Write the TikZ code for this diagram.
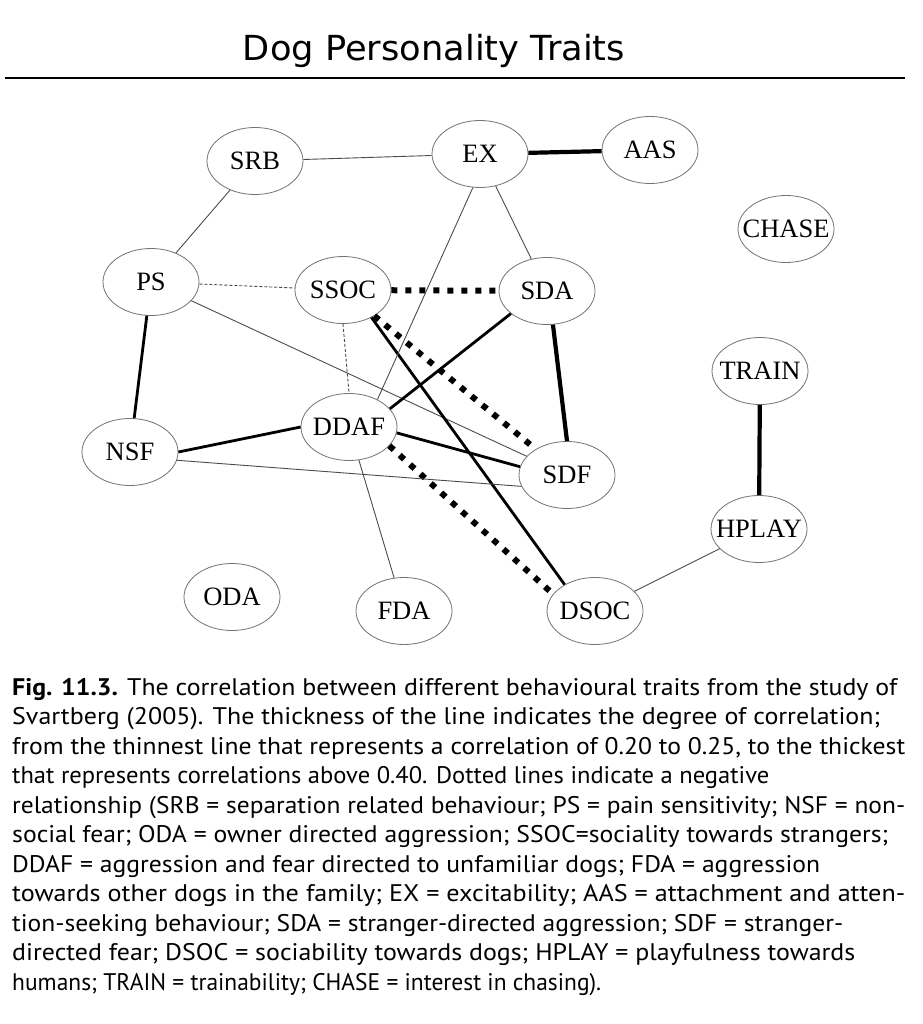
\documentclass[tikz,border=0pt]{standalone}
\usepackage{fontspec}
\usepackage{graphicx}
\setmainfont{Liberation Serif}
\newfontfamily\titlefont{DejaVu Sans}
\newfontfamily\capfont{PT Sans}
\usetikzlibrary{shapes.geometric}
\newcommand\tl[1]{\makebox[0pt]{#1}}
\newcommand\capfit[2]{\resizebox{#1pt}{\height}{#2}}
\tikzset{
  trait/.style={ellipse, draw=black!55, line width=0.8pt, fill=white,
    minimum width=96pt, minimum height=67pt, inner sep=0pt,
    font=\fontsize{26.5}{30}\selectfont},
  weak/.style={line width=0.9pt, draw=black!70},
  weakneg/.style={line width=0.9pt, draw=black!70, dash pattern=on 3pt off 2pt},
  mid/.style={line width=2.8pt},
  strong/.style={line width=4.2pt},
  strongneg/.style={line width=6pt, dash pattern=on 6pt off 8pt},
  capline/.style={anchor=base west, inner sep=0pt, font=\capfont\fontsize{24}{29.5}\selectfont},
}
\begin{document}
\begin{tikzpicture}[x=1pt,y=-1pt]
\fill[white] (0,0) rectangle (922,1024);
\useasboundingbox (0,0) rectangle (922,1024);

% title
\node[anchor=base, inner sep=0pt, font=\titlefont\fontsize{34.5}{40}\selectfont] (title) at (434,61) {\resizebox{382pt}{\height}{Dog Personality Traits}};
\coordinate (ruleL) at (5,78);
\coordinate (ruleR) at (905,78);
\draw[line width=2pt] (ruleL) -- (ruleR);

% nodes
\node[trait] (SRB)   at (255,161) {\tl{SRB}};
\node[trait] (EX)    at (480,154) {\tl{EX}};
\node[trait] (AAS)   at (650,150) {\tl{AAS}};
\node[trait] (CHASE) at (786,229) {\tl{CHASE}};
\node[trait] (PS)    at (151,282) {\tl{PS}};
\node[trait] (SSOC)  at (343,290) {\tl{SSOC}};
\node[trait] (SDA)   at (547,291) {\tl{SDA}};
\node[trait] (TRAIN) at (760,371) {\tl{TRAIN}};
\node[trait] (NSF)   at (130,452) {\tl{NSF}};
\node[trait] (DDAF)  at (349,427) {\tl{DDAF}};
\node[trait] (SDF)   at (567,475) {\tl{SDF}};
\node[trait] (HPLAY) at (759,529) {\tl{HPLAY}};
\node[trait] (ODA)   at (232,597) {\tl{ODA}};
\node[trait] (FDA)   at (404,611) {\tl{FDA}};
\node[trait] (DSOC)  at (595,611) {\tl{DSOC}};

% edges
\draw[weak] (SRB) -- (EX);
\draw[strong] (EX) -- (AAS);
\draw[weak] (SRB) -- (PS);
\draw[weakneg] (PS) -- (SSOC);
\draw[mid] (PS) -- (NSF);
\draw[weak] (PS) -- (SDF);
\draw[strongneg] (SSOC) -- (SDA);
\draw[strongneg] (SSOC) -- (SDF);
\draw[mid] (SSOC.-44) -- (DSOC.139);
\draw[mid] (SDA.-148) -- (DDAF.24);
\draw[strong] (SDA.-80) -- (SDF.north);
\draw[mid] (DDAF.-7) -- (SDF.170);
\draw[strongneg] (DDAF.-25) -- (DSOC.158);
\draw[weak] (DDAF) -- (FDA);
\draw[mid] (NSF.east) -- (DDAF.west);
\draw[weak] (NSF.-10) -- (SDF.194);
\draw[weak] (EX) -- (SDA);
\draw[weak] (EX.-102) -- (DDAF.44);
\draw[weakneg] (SSOC.south) -- (DDAF.north);
\draw[weak] (HPLAY) -- (DSOC);
\draw[strong] (TRAIN) -- (HPLAY);

% caption
\node[capline] (c1)  at (12,695)   {\capfit{885}{\textbf{Fig. 11.3.} The correlation between different behavioural traits from the study of}};
\node[capline] (c2)  at (12,724.5) {\capfit{868}{Svartberg (2005). The thickness of the line indicates the degree of correlation;}};
\node[capline] (c3)  at (12,754)   {\capfit{893}{from the thinnest line that represents a correlation of 0.20 to 0.25, to the thickest}};
\node[capline] (c4)  at (12,783.5) {\capfit{757}{that represents correlations above 0.40. Dotted lines indicate a negative}};
\node[capline] (c5)  at (12,813)   {\capfit{893}{relationship (SRB = separation related behaviour; PS = pain sensitivity; NSF = non-}};
\node[capline] (c6)  at (12,842.5) {\capfit{876}{social fear; ODA = owner directed aggression; SSOC=sociality towards strangers;}};
\node[capline] (c7)  at (12,872)   {\capfit{808}{DDAF = aggression and fear directed to unfamiliar dogs; FDA = aggression}};
\node[capline] (c8)  at (12,901.5) {\capfit{893}{towards other dogs in the family; EX = excitability; AAS = attachment and atten-}};
\node[capline] (c9)  at (12,931)   {\capfit{831}{tion-seeking behaviour; SDA = stranger-directed aggression; SDF = stranger-}};
\node[capline] (c10) at (12,960.5) {\capfit{843}{directed fear; DSOC = sociability towards dogs; HPLAY = playfulness towards}};
\node[capline] (c11) at (12,990)   {\capfit{589}{humans; TRAIN = trainability; CHASE = interest in chasing).}};
\end{tikzpicture}
\end{document}
